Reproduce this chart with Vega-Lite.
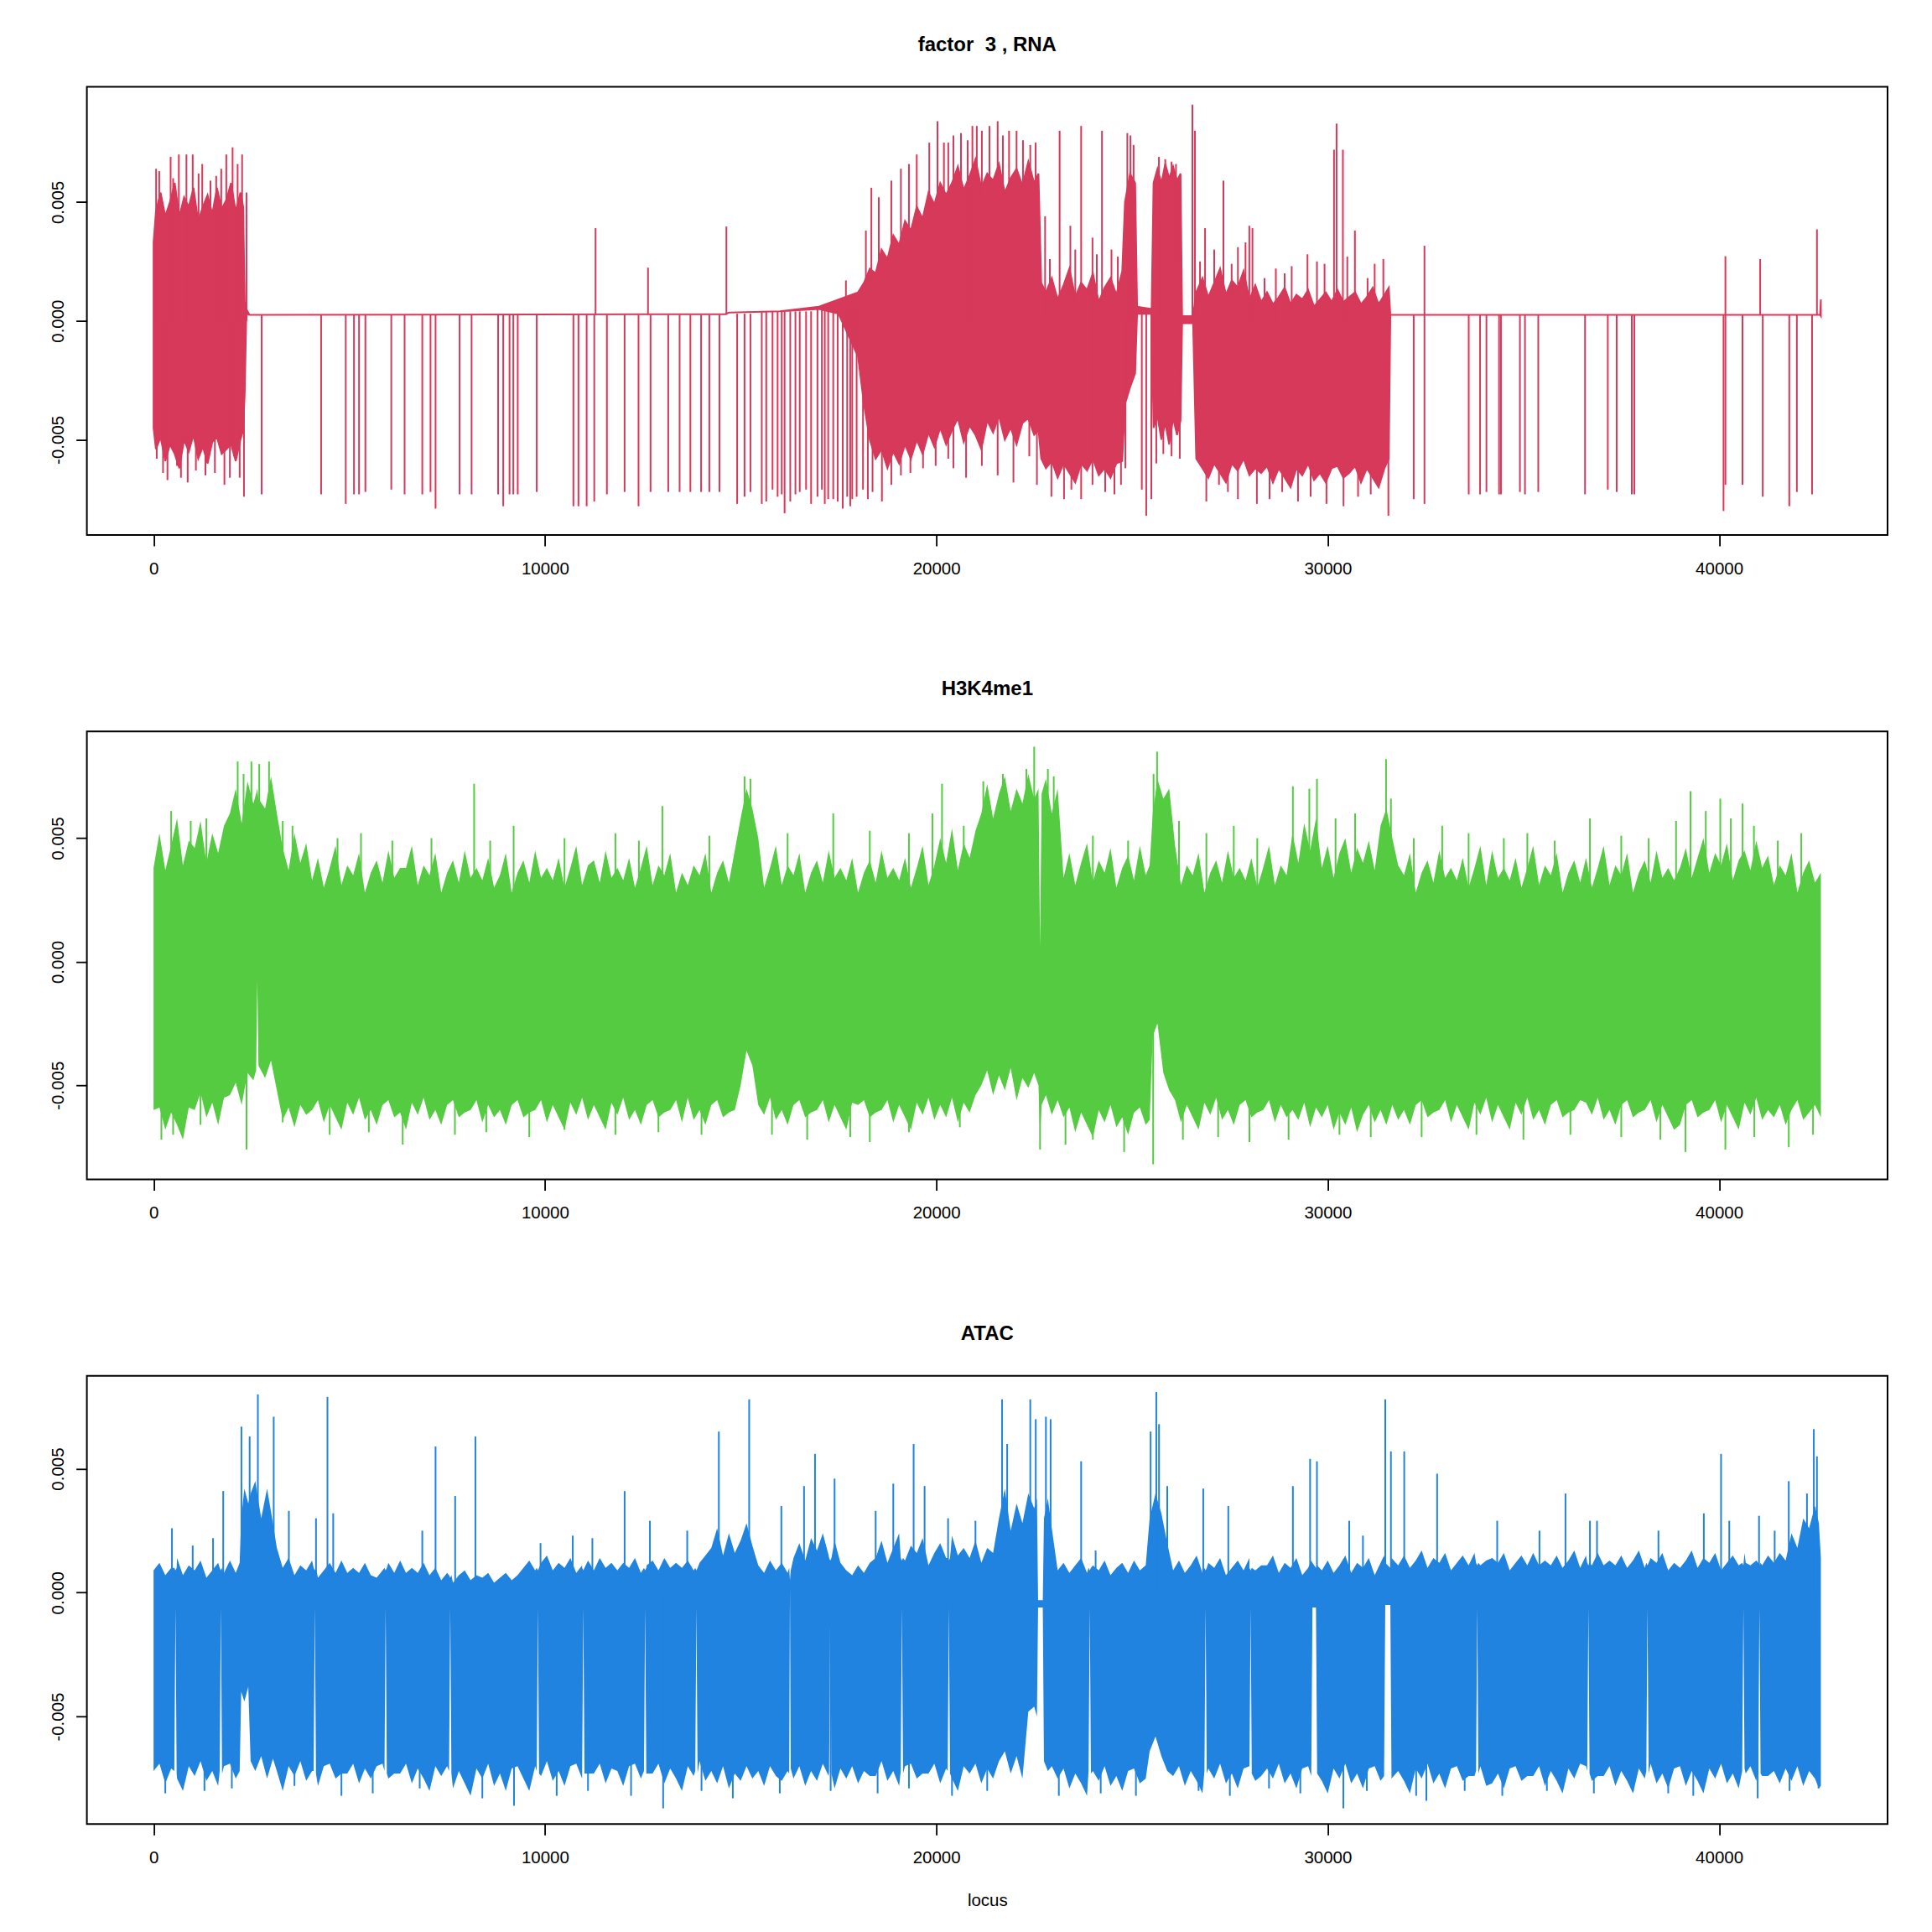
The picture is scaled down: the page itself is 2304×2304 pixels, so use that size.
{
  "$schema": "https://vega.github.io/schema/vega-lite/v6.json",
  "autosize": {"type": "none"},
  "padding": {"left": 103.6, "top": 103.6, "right": 2200.4, "bottom": 2200.4},
  "background": "white",
  "config": {
    "view": {"stroke": "black", "strokeWidth": 2},
    "font": "Liberation Sans",
    "axis": {"domain": false, "grid": false, "tickSize": 13, "tickWidth": 1.8, "tickColor": "black", "labelColor": "black", "labelFont": "Liberation Sans", "labelFontSize": 20.5, "labelFlush": false, "labelOverlap": false, "titleColor": "black", "titleFont": "Liberation Sans"},
    "title": {"font": "Liberation Sans", "fontSize": 24, "fontWeight": "bold", "color": "black", "anchor": "middle", "baseline": "alphabetic", "offset": 38}
  },
  "datasets": {
    "rnaBand": [
      {"x":0,"lo":-0.0045,"hi":0.0033},{"x":60,"lo":-0.0054,"hi":0.0046},{"x":180,"lo":-0.0049,"hi":0.0054},{"x":300,"lo":-0.0059,"hi":0.0044},{"x":420,"lo":-0.0052,"hi":0.0050},{"x":540,"lo":-0.0056,"hi":0.0058},{"x":660,"lo":-0.0062,"hi":0.0044},{"x":780,"lo":-0.0050,"hi":0.0052},{"x":900,"lo":-0.0055,"hi":0.0048},{"x":1020,"lo":-0.0048,"hi":0.0056},{"x":1140,"lo":-0.0058,"hi":0.0042},{"x":1260,"lo":-0.0053,"hi":0.0048},{"x":1380,"lo":-0.0060,"hi":0.0053},{"x":1500,"lo":-0.0051,"hi":0.0045},{"x":1620,"lo":-0.0049,"hi":0.0056},{"x":1740,"lo":-0.0056,"hi":0.0047},{"x":1860,"lo":-0.0054,"hi":0.0051},{"x":1980,"lo":-0.0052,"hi":0.0058},{"x":2100,"lo":-0.0059,"hi":0.0046},{"x":2220,"lo":-0.0050,"hi":0.0054},{"x":2290,"lo":-0.0046,"hi":0.0048},{"x":2330,"lo":-0.0030,"hi":0.0008},{"x":2370,"lo":0.0003,"hi":0.0005},{"x":2450,"lo":0.00025,"hi":0.00025},{"x":14600,"lo":0.00028,"hi":0.00028},{"x":14700,"lo":0.00035,"hi":0.00035},{"x":16000,"lo":0.0004,"hi":0.0004},{"x":17000,"lo":0.0005,"hi":0.0006},{"x":17500,"lo":0.0003,"hi":0.0009},
      {"x":18000,"lo":-0.0015,"hi":0.0012},{"x":18150,"lo":-0.0035,"hi":0.0016},{"x":18300,"lo":-0.0050,"hi":0.0022},{"x":18450,"lo":-0.0058,"hi":0.0020},{"x":18600,"lo":-0.0054,"hi":0.0030},{"x":18750,"lo":-0.0062,"hi":0.0026},{"x":18900,"lo":-0.0055,"hi":0.0036},{"x":19050,"lo":-0.0060,"hi":0.0032},{"x":19200,"lo":-0.0052,"hi":0.0042},{"x":19350,"lo":-0.0058,"hi":0.0038},{"x":19500,"lo":-0.0050,"hi":0.0048},{"x":19650,"lo":-0.0056,"hi":0.0043},{"x":19800,"lo":-0.0047,"hi":0.0054},{"x":19950,"lo":-0.0053,"hi":0.0049},{"x":20100,"lo":-0.0045,"hi":0.0058},{"x":20250,"lo":-0.0052,"hi":0.0053},
      {"x":20400,"lo":-0.0046,"hi":0.0058},{"x":20550,"lo":-0.0041,"hi":0.0065},{"x":20700,"lo":-0.0051,"hi":0.0055},{"x":20850,"lo":-0.0044,"hi":0.0061},{"x":21000,"lo":-0.0048,"hi":0.0068},{"x":21150,"lo":-0.0054,"hi":0.0056},{"x":21300,"lo":-0.0042,"hi":0.0062},{"x":21450,"lo":-0.0047,"hi":0.0059},{"x":21600,"lo":-0.0040,"hi":0.0066},{"x":21750,"lo":-0.0050,"hi":0.0054},{"x":21900,"lo":-0.0045,"hi":0.0060},{"x":22050,"lo":-0.0052,"hi":0.0064},{"x":22200,"lo":-0.0043,"hi":0.0057},{"x":22350,"lo":-0.0041,"hi":0.0067},{"x":22500,"lo":-0.0048,"hi":0.0058},{"x":22610,"lo":-0.0046,"hi":0.0062},
      {"x":22680,"lo":-0.0058,"hi":0.0016},{"x":22800,"lo":-0.0062,"hi":0.0012},{"x":22950,"lo":-0.0059,"hi":0.0018},{"x":23100,"lo":-0.0066,"hi":0.0009},{"x":23250,"lo":-0.0060,"hi":0.0015},{"x":23400,"lo":-0.0064,"hi":0.0022},{"x":23550,"lo":-0.0068,"hi":0.0010},{"x":23700,"lo":-0.0060,"hi":0.0016},{"x":23850,"lo":-0.0063,"hi":0.0013},{"x":24000,"lo":-0.0058,"hi":0.0020},{"x":24150,"lo":-0.0065,"hi":0.0008},{"x":24300,"lo":-0.0062,"hi":0.0014},{"x":24450,"lo":-0.0066,"hi":0.0018},{"x":24600,"lo":-0.0060,"hi":0.0011},{"x":24750,"lo":-0.0059,"hi":0.0021},
      {"x":24820,"lo":-0.0035,"hi":0.0050},{"x":24950,"lo":-0.0028,"hi":0.0062},{"x":25080,"lo":-0.0022,"hi":0.0058},{"x":25130,"lo":0.0003,"hi":0.0006},{"x":25500,"lo":0.0003,"hi":0.0005},{"x":25550,"lo":-0.0045,"hi":0.0058},{"x":25650,"lo":-0.0040,"hi":0.0064},{"x":25750,"lo":-0.0050,"hi":0.0058},{"x":25850,"lo":-0.0043,"hi":0.0066},{"x":25950,"lo":-0.0052,"hi":0.0060},{"x":26050,"lo":-0.0041,"hi":0.0065},{"x":26150,"lo":-0.0048,"hi":0.0059},{"x":26240,"lo":-0.0042,"hi":0.0062},{"x":26280,"lo":-0.0001,"hi":0.0002},{"x":26560,"lo":-0.0001,"hi":0.0002},
      {"x":26640,"lo":-0.0058,"hi":0.0012},{"x":26800,"lo":-0.0062,"hi":0.0018},{"x":26950,"lo":-0.0066,"hi":0.0010},{"x":27100,"lo":-0.0060,"hi":0.0016},{"x":27250,"lo":-0.0064,"hi":0.0022},{"x":27400,"lo":-0.0068,"hi":0.0011},{"x":27550,"lo":-0.0060,"hi":0.0017},{"x":27700,"lo":-0.0063,"hi":0.0014},{"x":27850,"lo":-0.0058,"hi":0.0021},{"x":28000,"lo":-0.0065,"hi":0.0009},{"x":28150,"lo":-0.0062,"hi":0.0015},
      {"x":28300,"lo":-0.0064,"hi":0.0008},{"x":28450,"lo":-0.0061,"hi":0.0012},{"x":28600,"lo":-0.0068,"hi":0.0007},{"x":28750,"lo":-0.0062,"hi":0.0010},{"x":28900,"lo":-0.0066,"hi":0.0014},{"x":29050,"lo":-0.0070,"hi":0.0007},{"x":29200,"lo":-0.0062,"hi":0.0011},{"x":29350,"lo":-0.0065,"hi":0.0009},{"x":29500,"lo":-0.0060,"hi":0.0013},{"x":29650,"lo":-0.0067,"hi":0.0006},{"x":29800,"lo":-0.0064,"hi":0.0009},{"x":29950,"lo":-0.0068,"hi":0.0012},{"x":30100,"lo":-0.0062,"hi":0.0008},{"x":30250,"lo":-0.0061,"hi":0.0013},{"x":30400,"lo":-0.0066,"hi":0.0008},{"x":30550,"lo":-0.0064,"hi":0.0010},{"x":30700,"lo":-0.0061,"hi":0.0012},{"x":30850,"lo":-0.0068,"hi":0.0007},{"x":31000,"lo":-0.0062,"hi":0.0010},{"x":31150,"lo":-0.0066,"hi":0.0014},{"x":31300,"lo":-0.0070,"hi":0.0007},{"x":31450,"lo":-0.0062,"hi":0.0011},{"x":31560,"lo":-0.0058,"hi":0.0014},
      {"x":31600,"lo":0.00025,"hi":0.00025},{"x":42580,"lo":0.00025,"hi":0.00025},{"x":42600,"lo":0.0002,"hi":0.0009}
    ],
    "rnaSpikes": [
      {"x":65,"y":0.0064,"b":0},{"x":145,"y":0.0063,"b":0},{"x":436,"y":0.0069,"b":0},{"x":500,"y":0.006,"b":0},{"x":646,"y":0.007,"b":0},{"x":840,"y":0.007,"b":0},{"x":1000,"y":0.007,"b":0},{"x":1150,"y":0.0062,"b":0},{"x":1244,"y":0.0066,"b":0},{"x":1454,"y":0.0059,"b":0},{"x":1600,"y":0.0061,"b":0},{"x":1729,"y":0.0064,"b":0},{"x":1858,"y":0.007,"b":0},{"x":2019,"y":0.0073,"b":0},{"x":2148,"y":0.0066,"b":0},{"x":2262,"y":0.007,"b":0},{"x":2374,"y":0.0054,"b":0},
      {"x":81,"y":-0.0058,"b":0},{"x":242,"y":-0.0064,"b":0},{"x":355,"y":-0.0067,"b":0},{"x":598,"y":-0.0061,"b":0},{"x":700,"y":-0.0066,"b":0},{"x":872,"y":-0.0068,"b":0},{"x":1082,"y":-0.0063,"b":0},{"x":1325,"y":-0.0065,"b":0},{"x":1567,"y":-0.0064,"b":0},{"x":1810,"y":-0.0069,"b":0},{"x":1950,"y":-0.0066,"b":0},{"x":2052,"y":-0.0057,"b":0},{"x":2200,"y":-0.0066,"b":0},{"x":2310,"y":-0.0074,"b":0},
      {"x":2762,"y":-0.0073,"b":0.00025},{"x":4281,"y":-0.0073,"b":0.00025},{"x":4911,"y":-0.0077,"b":0.00025},{"x":5121,"y":-0.0073,"b":0.00025},{"x":5250,"y":-0.0073,"b":0.00025},{"x":5412,"y":-0.0072,"b":0.00025},{"x":6074,"y":-0.0071,"b":0.00025},{"x":6414,"y":-0.0073,"b":0.00025},{"x":6866,"y":-0.0073,"b":0.00025},{"x":7076,"y":-0.0072,"b":0.00025},{"x":7205,"y":-0.0079,"b":0.00025},{"x":7819,"y":-0.0073,"b":0.00025},{"x":8126,"y":-0.0073,"b":0.00025},{"x":8804,"y":-0.0073,"b":0.00025},{"x":8934,"y":-0.0078,"b":0.00025},{"x":9095,"y":-0.0073,"b":0.00025},{"x":9192,"y":-0.0073,"b":0.00025},{"x":9305,"y":-0.0073,"b":0.00025},{"x":9790,"y":-0.0072,"b":0.00025},{"x":10727,"y":-0.0078,"b":0.00025},{"x":10856,"y":-0.0078,"b":0.00025},{"x":11066,"y":-0.0078,"b":0.00025},{"x":11260,"y":-0.0076,"b":0.00025},{"x":11583,"y":-0.0073,"b":0.00025},{"x":12035,"y":-0.0072,"b":0.00025},{"x":12391,"y":-0.0078,"b":0.00025},{"x":12698,"y":-0.0072,"b":0.00025},{"x":13150,"y":-0.0072,"b":0.00025},{"x":13441,"y":-0.0072,"b":0.00025},{"x":13716,"y":-0.0072,"b":0.00025},{"x":13990,"y":-0.0072,"b":0.00025},{"x":14200,"y":-0.0072,"b":0.00025},{"x":14458,"y":-0.0072,"b":0.00025},{"x":14911,"y":-0.0077,"b":0.0003},{"x":15100,"y":-0.0074,"b":0.0003},{"x":15250,"y":-0.0072,"b":0.0003},{"x":15540,"y":-0.0077,"b":0.0004},{"x":15654,"y":-0.0076,"b":0.0004},{"x":15815,"y":-0.0071,"b":0.0004},{"x":15945,"y":-0.0074,"b":0.0004},{"x":16050,"y":-0.0073,"b":0.0004},{"x":16123,"y":-0.0081,"b":0.0004},{"x":16268,"y":-0.0076,"b":0.0004},{"x":16400,"y":-0.0073,"b":0.0004},{"x":16510,"y":-0.0072,"b":0.0004},{"x":16672,"y":-0.0071,"b":0.0004},{"x":16800,"y":-0.0077,"b":0.0004},{"x":16963,"y":-0.0074,"b":0.0005},{"x":17076,"y":-0.0071,"b":0.0005},{"x":17150,"y":-0.0077,"b":0.0005},{"x":17237,"y":-0.0075,"b":0.0005},{"x":17366,"y":-0.0075,"b":0.0005},{"x":17479,"y":-0.0076,"b":0.0005},{"x":17609,"y":-0.0079,"b":0.0005},{"x":17722,"y":-0.0074,"b":0.0005},{"x":17800,"y":-0.0078,"b":0.0005},{"x":17851,"y":-0.0075,"b":0.0005},{"x":17964,"y":-0.0074,"b":0.0005},{"x":18126,"y":-0.0071,"b":0},{"x":18250,"y":-0.0075,"b":0},
      {"x":11293,"y":0.0039,"b":0.00025},{"x":12633,"y":0.00224,"b":0.00025},{"x":14636,"y":0.00397,"b":0.00025},{"x":17690,"y":0.0017,"b":0.0005},{"x":18200,"y":0.0038,"b":0},{"x":18340,"y":0.0056,"b":0},
      {"x":18530,"y":0.0052,"b":0},{"x":18850,"y":0.0059,"b":0},{"x":19095,"y":0.0064,"b":0},{"x":19300,"y":0.0066,"b":0},{"x":19500,"y":0.007,"b":0},{"x":19820,"y":0.0075,"b":0},{"x":20030,"y":0.0084,"b":0},{"x":20194,"y":0.0075,"b":0},{"x":20305,"y":0.0075,"b":0},{"x":20436,"y":0.0078,"b":0},{"x":20630,"y":0.0079,"b":0},{"x":20800,"y":0.0076,"b":0},{"x":20921,"y":0.0082,"b":0},{"x":21034,"y":0.0082,"b":0},{"x":21163,"y":0.008,"b":0},{"x":21357,"y":0.0082,"b":0},{"x":21567,"y":0.0084,"b":0},{"x":21700,"y":0.0078,"b":0},{"x":21858,"y":0.008,"b":0},{"x":22050,"y":0.008,"b":0},{"x":22214,"y":0.0076,"b":0},{"x":22400,"y":0.0074,"b":0},{"x":22537,"y":0.0075,"b":0},
      {"x":18370,"y":-0.0072,"b":0},{"x":18610,"y":-0.0076,"b":0},{"x":18850,"y":-0.0069,"b":0},{"x":19095,"y":-0.0065,"b":0},{"x":19337,"y":-0.0064,"b":0},{"x":19660,"y":-0.0062,"b":0},{"x":19983,"y":-0.0061,"b":0},{"x":20305,"y":-0.0058,"b":0},{"x":20436,"y":-0.0062,"b":0},{"x":20760,"y":-0.0066,"b":0},{"x":21163,"y":-0.0061,"b":0},{"x":21567,"y":-0.0065,"b":0},{"x":21970,"y":-0.0068,"b":0},{"x":22375,"y":-0.0057,"b":0},{"x":22570,"y":-0.0069,"b":0},
      {"x":22779,"y":0.0044,"b":0},{"x":22900,"y":0.0026,"b":0},{"x":23150,"y":0.008,"b":0},{"x":23425,"y":0.004,"b":0},{"x":23550,"y":0.003,"b":0},{"x":23700,"y":0.0082,"b":0},{"x":23990,"y":0.0035,"b":0},{"x":24100,"y":0.0028,"b":0},{"x":24233,"y":0.008,"b":0},{"x":24475,"y":0.003,"b":0},{"x":24637,"y":0.0027,"b":0},
      {"x":22940,"y":-0.0074,"b":0},{"x":23263,"y":-0.0075,"b":0},{"x":23450,"y":-0.0071,"b":0},{"x":23700,"y":-0.0075,"b":0},{"x":23990,"y":-0.0069,"b":0},{"x":24314,"y":-0.0072,"b":0},{"x":24550,"y":-0.0073,"b":0},{"x":24718,"y":-0.0069,"b":0},
      {"x":24880,"y":0.0079,"b":0},{"x":24960,"y":0.0078,"b":0},{"x":25040,"y":0.0074,"b":0},{"x":24830,"y":-0.0062,"b":0},
      {"x":25250,"y":-0.0071,"b":0.0004},{"x":25363,"y":-0.0082,"b":0.0004},{"x":25493,"y":-0.0075,"b":0.0004},
      {"x":25687,"y":0.0069,"b":0},{"x":25849,"y":0.0068,"b":0},{"x":26010,"y":0.0067,"b":0},{"x":26123,"y":0.0066,"b":0},{"x":25620,"y":-0.006,"b":0},{"x":25800,"y":-0.0056,"b":0},{"x":26010,"y":-0.0057,"b":0},{"x":26220,"y":-0.0058,"b":0},
      {"x":26543,"y":0.0091,"b":0},{"x":26608,"y":0.008,"b":0},
      {"x":26737,"y":0.0025,"b":0},{"x":26866,"y":0.0039,"b":0},{"x":27100,"y":0.003,"b":0},{"x":27335,"y":0.0059,"b":0},{"x":27545,"y":0.0024,"b":0},{"x":27706,"y":0.0031,"b":0},{"x":27900,"y":0.0033,"b":0},{"x":27997,"y":0.004,"b":0},{"x":28077,"y":0.0039,"b":0},
      {"x":26898,"y":-0.0076,"b":0},{"x":27222,"y":-0.0069,"b":0},{"x":27450,"y":-0.0072,"b":0},{"x":27706,"y":-0.0075,"b":0},{"x":28190,"y":-0.0077,"b":0},
      {"x":28385,"y":0.0018,"b":0},{"x":28675,"y":0.0022,"b":0},{"x":28900,"y":0.002,"b":0},{"x":29080,"y":0.0023,"b":0},{"x":29483,"y":0.0028,"b":0},{"x":29725,"y":0.0025,"b":0},{"x":29919,"y":0.0024,"b":0},{"x":30161,"y":0.0072,"b":0},{"x":30226,"y":0.0083,"b":0},{"x":30388,"y":0.0072,"b":0},{"x":30500,"y":0.0027,"b":0},{"x":30695,"y":0.0038,"b":0},{"x":31018,"y":0.0018,"b":0},{"x":31200,"y":0.0024,"b":0},{"x":31421,"y":0.0026,"b":0},
      {"x":28514,"y":-0.0075,"b":0},{"x":28837,"y":-0.0072,"b":0},{"x":29241,"y":-0.0076,"b":0},{"x":29564,"y":-0.0074,"b":0},{"x":29968,"y":-0.0077,"b":0},{"x":30404,"y":-0.0078,"b":0},{"x":30775,"y":-0.0074,"b":0},{"x":31099,"y":-0.0073,"b":0},{"x":31550,"y":-0.0082,"b":0},
      {"x":32197,"y":-0.0075,"b":0.00025},{"x":32472,"y":-0.0077,"b":0.00025},{"x":32472,"y":0.00316,"b":0.00025},{"x":33603,"y":-0.0073,"b":0.00025},{"x":33893,"y":-0.0073,"b":0.00025},{"x":34055,"y":-0.0072,"b":0.00025},{"x":34378,"y":-0.0073,"b":0.00025},{"x":34426,"y":-0.0073,"b":0.00025},{"x":34911,"y":-0.0072,"b":0.00025},{"x":35040,"y":-0.0073,"b":0.00025},{"x":35380,"y":-0.0072,"b":0.00025},{"x":36575,"y":-0.0073,"b":0.00025},{"x":37156,"y":-0.0071,"b":0.00025},{"x":37383,"y":-0.0072,"b":0.00025},{"x":37770,"y":-0.0073,"b":0.00025},{"x":37835,"y":-0.0073,"b":0.00025},{"x":40113,"y":-0.008,"b":0.00025},{"x":40161,"y":-0.0069,"b":0.00025},{"x":40161,"y":0.00272,"b":0.00025},{"x":40598,"y":-0.0069,"b":0.00025},{"x":41050,"y":0.0026,"b":0.00025},{"x":41115,"y":-0.0074,"b":0.00025},{"x":41793,"y":-0.0078,"b":0.00025},{"x":41987,"y":-0.0072,"b":0.00025},{"x":42375,"y":-0.0073,"b":0.00025},{"x":42500,"y":0.00385,"b":0.00025}
    ],
    "h3Band": [
      {"x":0,"lo":-0.0060,"hi":0.0038},{"x":150,"lo":-0.0059,"hi":0.0052},{"x":300,"lo":-0.0068,"hi":0.0037},{"x":450,"lo":-0.0061,"hi":0.0047},{"x":600,"lo":-0.0066,"hi":0.0058},{"x":750,"lo":-0.0072,"hi":0.0039},{"x":900,"lo":-0.0059,"hi":0.0049},
      {"x":1050,"lo":-0.0060,"hi":0.0046},{"x":1200,"lo":-0.0053,"hi":0.0057},{"x":1350,"lo":-0.0063,"hi":0.0040},{"x":1500,"lo":-0.0057,"hi":0.0052},{"x":1650,"lo":-0.0066,"hi":0.0044},{"x":1800,"lo":-0.0055,"hi":0.0055},
      {"x":1950,"lo":-0.0054,"hi":0.0060},{"x":2100,"lo":-0.0049,"hi":0.0070},{"x":2250,"lo":-0.0058,"hi":0.0056},{"x":2400,"lo":-0.0045,"hi":0.0073},{"x":2550,"lo":-0.0048,"hi":0.0064},{"x":2620,"lo":-0.0044,"hi":0.0068},{"x":2650,"lo":-0.0008,"hi":0.0070},{"x":2680,"lo":-0.0042,"hi":0.0066},{"x":2850,"lo":-0.0047,"hi":0.0062},{"x":3000,"lo":-0.0040,"hi":0.0075},{"x":3150,"lo":-0.0052,"hi":0.0060},
      {"x":3300,"lo":-0.0064,"hi":0.0046},{"x":3450,"lo":-0.0059,"hi":0.0037},{"x":3600,"lo":-0.0067,"hi":0.0052},{"x":3750,"lo":-0.0058,"hi":0.0040},{"x":3900,"lo":-0.0062,"hi":0.0048},
      {"x":4050,"lo":-0.0060,"hi":0.0033},{"x":4200,"lo":-0.0056,"hi":0.0042},{"x":4350,"lo":-0.0065,"hi":0.0030},{"x":4500,"lo":-0.0058,"hi":0.0038},{"x":4650,"lo":-0.0063,"hi":0.0047},{"x":4800,"lo":-0.0068,"hi":0.0031},{"x":4950,"lo":-0.0057,"hi":0.0039},{"x":5100,"lo":-0.0062,"hi":0.0035},{"x":5250,"lo":-0.0055,"hi":0.0044},{"x":5400,"lo":-0.0064,"hi":0.0028},{"x":5550,"lo":-0.0060,"hi":0.0036},{"x":5700,"lo":-0.0066,"hi":0.0041},{"x":5850,"lo":-0.0058,"hi":0.0032},{"x":6000,"lo":-0.0056,"hi":0.0045},{"x":6150,"lo":-0.0063,"hi":0.0034},{"x":6300,"lo":-0.0061,"hi":0.0038},
      {"x":6450,"lo":-0.0068,"hi":0.0038},{"x":6600,"lo":-0.0057,"hi":0.0047},{"x":6750,"lo":-0.0062,"hi":0.0031},{"x":6900,"lo":-0.0055,"hi":0.0039},{"x":7050,"lo":-0.0064,"hi":0.0035},{"x":7200,"lo":-0.0060,"hi":0.0044},{"x":7350,"lo":-0.0066,"hi":0.0028},{"x":7500,"lo":-0.0058,"hi":0.0036},{"x":7650,"lo":-0.0056,"hi":0.0041},{"x":7800,"lo":-0.0063,"hi":0.0032},{"x":7950,"lo":-0.0061,"hi":0.0045},{"x":8100,"lo":-0.0060,"hi":0.0034},{"x":8250,"lo":-0.0056,"hi":0.0038},{"x":8400,"lo":-0.0065,"hi":0.0033},{"x":8550,"lo":-0.0058,"hi":0.0042},{"x":8700,"lo":-0.0063,"hi":0.0030},
      {"x":8850,"lo":-0.0060,"hi":0.0035},{"x":9000,"lo":-0.0066,"hi":0.0044},{"x":9150,"lo":-0.0058,"hi":0.0028},{"x":9300,"lo":-0.0056,"hi":0.0036},{"x":9450,"lo":-0.0063,"hi":0.0041},{"x":9600,"lo":-0.0061,"hi":0.0032},{"x":9750,"lo":-0.0060,"hi":0.0045},{"x":9900,"lo":-0.0056,"hi":0.0034},{"x":10050,"lo":-0.0065,"hi":0.0038},{"x":10200,"lo":-0.0058,"hi":0.0033},{"x":10350,"lo":-0.0063,"hi":0.0042},{"x":10500,"lo":-0.0068,"hi":0.0030},{"x":10650,"lo":-0.0057,"hi":0.0038},{"x":10800,"lo":-0.0062,"hi":0.0047},{"x":10950,"lo":-0.0055,"hi":0.0031},{"x":11100,"lo":-0.0064,"hi":0.0039},
      {"x":11250,"lo":-0.0058,"hi":0.0041},{"x":11400,"lo":-0.0063,"hi":0.0032},{"x":11550,"lo":-0.0068,"hi":0.0045},{"x":11700,"lo":-0.0057,"hi":0.0034},{"x":11850,"lo":-0.0062,"hi":0.0038},{"x":12000,"lo":-0.0055,"hi":0.0033},{"x":12150,"lo":-0.0064,"hi":0.0042},{"x":12300,"lo":-0.0060,"hi":0.0030},{"x":12450,"lo":-0.0066,"hi":0.0038},{"x":12600,"lo":-0.0058,"hi":0.0047},{"x":12750,"lo":-0.0056,"hi":0.0031},{"x":12900,"lo":-0.0063,"hi":0.0039},{"x":13050,"lo":-0.0061,"hi":0.0035},{"x":13200,"lo":-0.0060,"hi":0.0044},{"x":13350,"lo":-0.0056,"hi":0.0028},{"x":13500,"lo":-0.0065,"hi":0.0036},
      {"x":13650,"lo":-0.0055,"hi":0.0031},{"x":13800,"lo":-0.0064,"hi":0.0039},{"x":13950,"lo":-0.0060,"hi":0.0035},{"x":14100,"lo":-0.0066,"hi":0.0044},{"x":14250,"lo":-0.0058,"hi":0.0028},{"x":14400,"lo":-0.0056,"hi":0.0036},{"x":14550,"lo":-0.0063,"hi":0.0041},{"x":14700,"lo":-0.0061,"hi":0.0032},{"x":14850,"lo":-0.0060,"hi":0.0045},
      {"x":15000,"lo":-0.0050,"hi":0.0058},{"x":15150,"lo":-0.0036,"hi":0.0070},{"x":15300,"lo":-0.0042,"hi":0.0062},{"x":15450,"lo":-0.0058,"hi":0.0050},
      {"x":15600,"lo":-0.0062,"hi":0.0030},{"x":15750,"lo":-0.0055,"hi":0.0038},{"x":15900,"lo":-0.0064,"hi":0.0047},{"x":16050,"lo":-0.0060,"hi":0.0031},{"x":16200,"lo":-0.0066,"hi":0.0039},{"x":16350,"lo":-0.0058,"hi":0.0035},{"x":16500,"lo":-0.0056,"hi":0.0044},{"x":16650,"lo":-0.0063,"hi":0.0028},{"x":16800,"lo":-0.0061,"hi":0.0036},{"x":16950,"lo":-0.0060,"hi":0.0041},{"x":17100,"lo":-0.0056,"hi":0.0032},{"x":17250,"lo":-0.0065,"hi":0.0045},{"x":17400,"lo":-0.0058,"hi":0.0034},{"x":17550,"lo":-0.0063,"hi":0.0038},{"x":17700,"lo":-0.0068,"hi":0.0033},{"x":17850,"lo":-0.0057,"hi":0.0042},
      {"x":18000,"lo":-0.0058,"hi":0.0028},{"x":18150,"lo":-0.0056,"hi":0.0036},{"x":18300,"lo":-0.0063,"hi":0.0041},{"x":18450,"lo":-0.0061,"hi":0.0032},{"x":18600,"lo":-0.0060,"hi":0.0045},{"x":18750,"lo":-0.0056,"hi":0.0034},{"x":18900,"lo":-0.0065,"hi":0.0038},{"x":19050,"lo":-0.0058,"hi":0.0033},{"x":19200,"lo":-0.0063,"hi":0.0042},{"x":19350,"lo":-0.0068,"hi":0.0030},{"x":19500,"lo":-0.0057,"hi":0.0038},{"x":19650,"lo":-0.0062,"hi":0.0047},{"x":19800,"lo":-0.0055,"hi":0.0031},{"x":19950,"lo":-0.0064,"hi":0.0039},
      {"x":20100,"lo":-0.0058,"hi":0.0050},{"x":20250,"lo":-0.0063,"hi":0.0040},{"x":20400,"lo":-0.0055,"hi":0.0054},{"x":20550,"lo":-0.0065,"hi":0.0037},{"x":20700,"lo":-0.0057,"hi":0.0048},{"x":20850,"lo":-0.0061,"hi":0.0042},{"x":21000,"lo":-0.0054,"hi":0.0053},
      {"x":21150,"lo":-0.0050,"hi":0.0060},{"x":21300,"lo":-0.0044,"hi":0.0072},{"x":21450,"lo":-0.0054,"hi":0.0058},{"x":21600,"lo":-0.0046,"hi":0.0068},{"x":21750,"lo":-0.0052,"hi":0.0075},{"x":21900,"lo":-0.0043,"hi":0.0061},{"x":22050,"lo":-0.0056,"hi":0.0070},{"x":22200,"lo":-0.0047,"hi":0.0064},{"x":22350,"lo":-0.0051,"hi":0.0076},{"x":22500,"lo":-0.0045,"hi":0.0066},{"x":22610,"lo":-0.0050,"hi":0.0070},{"x":22650,"lo":-0.0070,"hi":0.0006},{"x":22690,"lo":-0.0058,"hi":0.0068},
      {"x":22800,"lo":-0.0054,"hi":0.0074},{"x":22950,"lo":-0.0062,"hi":0.0060},{"x":23100,"lo":-0.0056,"hi":0.0070},
      {"x":23250,"lo":-0.0063,"hi":0.0034},{"x":23400,"lo":-0.0059,"hi":0.0044},{"x":23550,"lo":-0.0069,"hi":0.0031},{"x":23700,"lo":-0.0061,"hi":0.0040},{"x":23850,"lo":-0.0066,"hi":0.0048},{"x":24000,"lo":-0.0071,"hi":0.0032},{"x":24150,"lo":-0.0060,"hi":0.0041},{"x":24300,"lo":-0.0065,"hi":0.0036},{"x":24450,"lo":-0.0058,"hi":0.0046},{"x":24600,"lo":-0.0067,"hi":0.0030},{"x":24750,"lo":-0.0063,"hi":0.0038},{"x":24900,"lo":-0.0070,"hi":0.0043},{"x":25050,"lo":-0.0061,"hi":0.0033},{"x":25200,"lo":-0.0059,"hi":0.0047},{"x":25350,"lo":-0.0066,"hi":0.0035},{"x":25450,"lo":-0.0064,"hi":0.0039},
      {"x":25530,"lo":-0.0030,"hi":0.0060},{"x":25650,"lo":-0.0025,"hi":0.0074},{"x":25800,"lo":-0.0045,"hi":0.0066},{"x":25950,"lo":-0.0052,"hi":0.0070},
      {"x":26100,"lo":-0.0056,"hi":0.0047},{"x":26250,"lo":-0.0065,"hi":0.0031},{"x":26400,"lo":-0.0058,"hi":0.0039},{"x":26550,"lo":-0.0063,"hi":0.0035},{"x":26700,"lo":-0.0068,"hi":0.0044},{"x":26850,"lo":-0.0057,"hi":0.0028},{"x":27000,"lo":-0.0062,"hi":0.0036},{"x":27150,"lo":-0.0055,"hi":0.0041},{"x":27300,"lo":-0.0064,"hi":0.0032},{"x":27450,"lo":-0.0060,"hi":0.0045},{"x":27600,"lo":-0.0066,"hi":0.0034},{"x":27750,"lo":-0.0058,"hi":0.0038},{"x":27900,"lo":-0.0056,"hi":0.0033},{"x":28050,"lo":-0.0063,"hi":0.0042},{"x":28200,"lo":-0.0061,"hi":0.0030},{"x":28350,"lo":-0.0060,"hi":0.0038},{"x":28500,"lo":-0.0056,"hi":0.0047},{"x":28650,"lo":-0.0065,"hi":0.0031},{"x":28800,"lo":-0.0058,"hi":0.0039},{"x":28950,"lo":-0.0063,"hi":0.0035},
      {"x":29100,"lo":-0.0060,"hi":0.0052},{"x":29250,"lo":-0.0064,"hi":0.0040},{"x":29400,"lo":-0.0057,"hi":0.0056},{"x":29550,"lo":-0.0067,"hi":0.0045},{"x":29700,"lo":-0.0059,"hi":0.0058},
      {"x":29850,"lo":-0.0063,"hi":0.0038},{"x":30000,"lo":-0.0058,"hi":0.0047},{"x":30150,"lo":-0.0068,"hi":0.0034},{"x":30300,"lo":-0.0061,"hi":0.0044},{"x":30450,"lo":-0.0066,"hi":0.0050},{"x":30600,"lo":-0.0059,"hi":0.0036},{"x":30750,"lo":-0.0069,"hi":0.0046},{"x":30900,"lo":-0.0062,"hi":0.0040},{"x":31050,"lo":-0.0058,"hi":0.0049},{"x":31200,"lo":-0.0065,"hi":0.0037},
      {"x":31350,"lo":-0.0060,"hi":0.0055},{"x":31500,"lo":-0.0066,"hi":0.0062},{"x":31650,"lo":-0.0058,"hi":0.0050},
      {"x":31800,"lo":-0.0064,"hi":0.0039},{"x":31950,"lo":-0.0060,"hi":0.0035},{"x":32100,"lo":-0.0066,"hi":0.0044},{"x":32250,"lo":-0.0058,"hi":0.0028},{"x":32400,"lo":-0.0056,"hi":0.0036},{"x":32550,"lo":-0.0063,"hi":0.0041},{"x":32700,"lo":-0.0061,"hi":0.0032},{"x":32850,"lo":-0.0060,"hi":0.0045},{"x":33000,"lo":-0.0056,"hi":0.0034},{"x":33150,"lo":-0.0065,"hi":0.0038},{"x":33300,"lo":-0.0058,"hi":0.0033},{"x":33450,"lo":-0.0063,"hi":0.0042},{"x":33600,"lo":-0.0068,"hi":0.0030},{"x":33750,"lo":-0.0057,"hi":0.0038},{"x":33900,"lo":-0.0062,"hi":0.0047},{"x":34050,"lo":-0.0055,"hi":0.0031},
      {"x":34200,"lo":-0.0065,"hi":0.0045},{"x":34350,"lo":-0.0058,"hi":0.0034},{"x":34500,"lo":-0.0063,"hi":0.0038},{"x":34650,"lo":-0.0068,"hi":0.0033},{"x":34800,"lo":-0.0057,"hi":0.0042},{"x":34950,"lo":-0.0062,"hi":0.0030},{"x":35100,"lo":-0.0055,"hi":0.0038},{"x":35250,"lo":-0.0064,"hi":0.0047},{"x":35400,"lo":-0.0060,"hi":0.0031},{"x":35550,"lo":-0.0066,"hi":0.0039},{"x":35700,"lo":-0.0058,"hi":0.0035},{"x":35850,"lo":-0.0056,"hi":0.0044},{"x":36000,"lo":-0.0063,"hi":0.0028},{"x":36150,"lo":-0.0061,"hi":0.0036},{"x":36300,"lo":-0.0060,"hi":0.0041},{"x":36450,"lo":-0.0056,"hi":0.0032},
      {"x":36600,"lo":-0.0057,"hi":0.0042},{"x":36750,"lo":-0.0062,"hi":0.0030},{"x":36900,"lo":-0.0055,"hi":0.0038},{"x":37050,"lo":-0.0064,"hi":0.0047},{"x":37200,"lo":-0.0060,"hi":0.0031},{"x":37350,"lo":-0.0066,"hi":0.0039},{"x":37500,"lo":-0.0058,"hi":0.0035},{"x":37650,"lo":-0.0056,"hi":0.0044},{"x":37800,"lo":-0.0063,"hi":0.0028},{"x":37950,"lo":-0.0061,"hi":0.0036},{"x":38100,"lo":-0.0060,"hi":0.0041},{"x":38250,"lo":-0.0056,"hi":0.0032},{"x":38400,"lo":-0.0065,"hi":0.0045},{"x":38550,"lo":-0.0058,"hi":0.0034},{"x":38700,"lo":-0.0063,"hi":0.0038},{"x":38850,"lo":-0.0068,"hi":0.0033},
      {"x":39000,"lo":-0.0066,"hi":0.0038},{"x":39150,"lo":-0.0058,"hi":0.0046},{"x":39300,"lo":-0.0056,"hi":0.0034},{"x":39450,"lo":-0.0063,"hi":0.0042},{"x":39600,"lo":-0.0061,"hi":0.0050},{"x":39750,"lo":-0.0060,"hi":0.0036},{"x":39900,"lo":-0.0056,"hi":0.0044},{"x":40050,"lo":-0.0065,"hi":0.0039},{"x":40200,"lo":-0.0058,"hi":0.0048},{"x":40350,"lo":-0.0063,"hi":0.0033},{"x":40500,"lo":-0.0068,"hi":0.0041},{"x":40650,"lo":-0.0057,"hi":0.0045},{"x":40800,"lo":-0.0062,"hi":0.0037},{"x":40950,"lo":-0.0055,"hi":0.0049},{"x":41100,"lo":-0.0064,"hi":0.0038},{"x":41250,"lo":-0.0060,"hi":0.0043},
      {"x":41400,"lo":-0.0063,"hi":0.0031},{"x":41550,"lo":-0.0058,"hi":0.0039},{"x":41700,"lo":-0.0066,"hi":0.0035},{"x":41850,"lo":-0.0060,"hi":0.0044},{"x":42000,"lo":-0.0056,"hi":0.0028},{"x":42150,"lo":-0.0064,"hi":0.0036},{"x":42300,"lo":-0.0061,"hi":0.0041},{"x":42450,"lo":-0.0058,"hi":0.0032},{"x":42600,"lo":-0.0063,"hi":0.0036}
    ],
    "h3Spikes": [
      {"x":450,"y":0.0061,"b":0},{"x":950,"y":0.0057,"b":0},{"x":1350,"y":0.0058,"b":0},{"x":2150,"y":0.0081,"b":0},{"x":2300,"y":0.0076,"b":0},{"x":2500,"y":0.0081,"b":0},{"x":2700,"y":0.008,"b":0},{"x":2950,"y":0.0081,"b":0},{"x":3300,"y":0.0057,"b":0},{"x":3550,"y":0.0055,"b":0},{"x":4700,"y":0.005,"b":0},{"x":5300,"y":0.0052,"b":0},{"x":6100,"y":0.0049,"b":0},{"x":7100,"y":0.005,"b":0},{"x":8190,"y":0.0072,"b":0},{"x":8600,"y":0.0049,"b":0},{"x":9200,"y":0.0055,"b":0},{"x":10500,"y":0.005,"b":0},{"x":11800,"y":0.0052,"b":0},{"x":12400,"y":0.0049,"b":0},{"x":13000,"y":0.0063,"b":0},{"x":14200,"y":0.0051,"b":0},{"x":15100,"y":0.0075,"b":0},{"x":15250,"y":0.0074,"b":0},{"x":16200,"y":0.0052,"b":0},{"x":17366,"y":0.006,"b":0},{"x":18300,"y":0.0053,"b":0},{"x":19300,"y":0.0052,"b":0},{"x":19900,"y":0.006,"b":0},{"x":20145,"y":0.0072,"b":0},{"x":20700,"y":0.0055,"b":0},{"x":21200,"y":0.0073,"b":0},{"x":21700,"y":0.0076,"b":0},{"x":22300,"y":0.0078,"b":0},{"x":22500,"y":0.0087,"b":0},{"x":22850,"y":0.0078,"b":0},{"x":23000,"y":0.0075,"b":0},{"x":24000,"y":0.0051,"b":0},{"x":24900,"y":0.0049,"b":0},{"x":25550,"y":0.0076,"b":0},{"x":25640,"y":0.0085,"b":0},{"x":26200,"y":0.0057,"b":0},{"x":26900,"y":0.0052,"b":0},{"x":27600,"y":0.0055,"b":0},{"x":28200,"y":0.005,"b":0},{"x":29110,"y":0.0071,"b":0},{"x":29530,"y":0.007,"b":0},{"x":29725,"y":0.0074,"b":0},{"x":30200,"y":0.0058,"b":0},{"x":30700,"y":0.006,"b":0},{"x":31490,"y":0.0082,"b":0},{"x":31615,"y":0.0066,"b":0},{"x":32200,"y":0.005,"b":0},{"x":32925,"y":0.0055,"b":0},{"x":33600,"y":0.0052,"b":0},{"x":34500,"y":0.005,"b":0},{"x":35100,"y":0.0052,"b":0},{"x":35800,"y":0.0049,"b":0},{"x":36700,"y":0.0058,"b":0},{"x":37500,"y":0.0051,"b":0},{"x":38200,"y":0.005,"b":0},{"x":38900,"y":0.0057,"b":0},{"x":39270,"y":0.0069,"b":0},{"x":39660,"y":0.0061,"b":0},{"x":40030,"y":0.0066,"b":0},{"x":40300,"y":0.0058,"b":0},{"x":40600,"y":0.0064,"b":0},{"x":40890,"y":0.0055,"b":0},{"x":41500,"y":0.0049,"b":0},{"x":42100,"y":0.0052,"b":0},
      {"x":200,"y":-0.0072,"b":0},{"x":500,"y":-0.007,"b":0},{"x":1200,"y":-0.0066,"b":0},{"x":2375,"y":-0.0076,"b":0},{"x":3300,"y":-0.0065,"b":0},{"x":4500,"y":-0.007,"b":0},{"x":5500,"y":-0.0069,"b":0},{"x":6365,"y":-0.0074,"b":0},{"x":7700,"y":-0.007,"b":0},{"x":8500,"y":-0.0069,"b":0},{"x":9600,"y":-0.0071,"b":0},{"x":10500,"y":-0.0068,"b":0},{"x":11800,"y":-0.007,"b":0},{"x":12900,"y":-0.0069,"b":0},{"x":14000,"y":-0.007,"b":0},{"x":15800,"y":-0.007,"b":0},{"x":16700,"y":-0.0072,"b":0},{"x":17800,"y":-0.0071,"b":0},{"x":18300,"y":-0.0073,"b":0},{"x":19300,"y":-0.0069,"b":0},{"x":20600,"y":-0.0067,"b":0},{"x":22650,"y":-0.0076,"b":0},{"x":23300,"y":-0.0074,"b":0},{"x":24000,"y":-0.0072,"b":0},{"x":24798,"y":-0.0077,"b":0},{"x":25540,"y":-0.0082,"b":0},{"x":26300,"y":-0.0072,"b":0},{"x":27200,"y":-0.0071,"b":0},{"x":28000,"y":-0.0073,"b":0},{"x":29000,"y":-0.0072,"b":0},{"x":30300,"y":-0.007,"b":0},{"x":31100,"y":-0.0071,"b":0},{"x":32400,"y":-0.0071,"b":0},{"x":33800,"y":-0.007,"b":0},{"x":35000,"y":-0.0072,"b":0},{"x":36200,"y":-0.007,"b":0},{"x":37500,"y":-0.0071,"b":0},{"x":38500,"y":-0.0072,"b":0},{"x":39140,"y":-0.0077,"b":0},{"x":40160,"y":-0.0076,"b":0},{"x":40900,"y":-0.0071,"b":0},{"x":41780,"y":-0.0075,"b":0},{"x":42400,"y":-0.007,"b":0}
    ],
    "atacBand": [
      {"x":0,"lo":-0.0072,"hi":0.0009},{"x":150,"lo":-0.0069,"hi":0.0012},{"x":300,"lo":-0.0077,"hi":0.0007},{"x":450,"lo":-0.0071,"hi":0.0010},{"x":600,"lo":-0.0075,"hi":0.0014},{"x":750,"lo":-0.0080,"hi":0.0007},{"x":900,"lo":-0.0070,"hi":0.0011},{"x":1050,"lo":-0.0074,"hi":0.0009},{"x":1200,"lo":-0.0068,"hi":0.0013},{"x":1350,"lo":-0.0076,"hi":0.0006},{"x":1500,"lo":-0.0072,"hi":0.0009},{"x":1650,"lo":-0.0078,"hi":0.0012},{"x":1800,"lo":-0.0070,"hi":0.0008},{"x":1950,"lo":-0.0069,"hi":0.0013},{"x":2100,"lo":-0.0075,"hi":0.0008},{"x":2200,"lo":-0.0072,"hi":0.0012},
      {"x":2240,"lo":-0.0040,"hi":0.0030},{"x":2320,"lo":-0.0044,"hi":0.0042},{"x":2420,"lo":-0.0038,"hi":0.0036},{"x":2480,"lo":-0.0068,"hi":0.0040},{"x":2600,"lo":-0.0072,"hi":0.0045},{"x":2750,"lo":-0.0066,"hi":0.0030},{"x":2900,"lo":-0.0075,"hi":0.0042},{"x":3050,"lo":-0.0067,"hi":0.0028},{"x":3150,"lo":-0.0072,"hi":0.0018},
      {"x":3300,"lo":-0.0080,"hi":0.0010},{"x":3450,"lo":-0.0070,"hi":0.0014},{"x":3600,"lo":-0.0074,"hi":0.0007},{"x":3750,"lo":-0.0068,"hi":0.0011},{"x":3900,"lo":-0.0076,"hi":0.0009},{"x":4050,"lo":-0.0072,"hi":0.0013},{"x":4200,"lo":-0.0078,"hi":0.0006},{"x":4350,"lo":-0.0070,"hi":0.0009},{"x":4500,"lo":-0.0069,"hi":0.0012},{"x":4650,"lo":-0.0075,"hi":0.0008},{"x":4800,"lo":-0.0073,"hi":0.0013},{"x":4950,"lo":-0.0073,"hi":0.0008},{"x":5100,"lo":-0.0069,"hi":0.0010},{"x":5250,"lo":-0.0077,"hi":0.0008},{"x":5400,"lo":-0.0071,"hi":0.0012},{"x":5550,"lo":-0.0075,"hi":0.0007},
      {"x":5700,"lo":-0.0070,"hi":0.0006},{"x":5850,"lo":-0.0069,"hi":0.0009},{"x":6000,"lo":-0.0075,"hi":0.0012},{"x":6150,"lo":-0.0073,"hi":0.0008},{"x":6300,"lo":-0.0073,"hi":0.0013},{"x":6450,"lo":-0.0069,"hi":0.0008},{"x":6600,"lo":-0.0077,"hi":0.0010},{"x":6750,"lo":-0.0071,"hi":0.0008},{"x":6900,"lo":-0.0075,"hi":0.0012},{"x":7050,"lo":-0.0080,"hi":0.0007},{"x":7200,"lo":-0.0070,"hi":0.0010},
      {"x":7350,"lo":-0.0074,"hi":0.0005},{"x":7500,"lo":-0.0070,"hi":0.0008},{"x":7650,"lo":-0.0079,"hi":0.0004},{"x":7800,"lo":-0.0072,"hi":0.0007},{"x":7950,"lo":-0.0077,"hi":0.0009},{"x":8100,"lo":-0.0082,"hi":0.0005},{"x":8250,"lo":-0.0071,"hi":0.0007},{"x":8400,"lo":-0.0075,"hi":0.0006},{"x":8550,"lo":-0.0069,"hi":0.0008},{"x":8700,"lo":-0.0078,"hi":0.0004},{"x":8850,"lo":-0.0073,"hi":0.0006},{"x":9000,"lo":-0.0080,"hi":0.0008},{"x":9150,"lo":-0.0071,"hi":0.0005},{"x":9300,"lo":-0.0070,"hi":0.0007},
      {"x":9450,"lo":-0.0075,"hi":0.0010},{"x":9600,"lo":-0.0080,"hi":0.0013},{"x":9750,"lo":-0.0070,"hi":0.0009},{"x":9900,"lo":-0.0074,"hi":0.0012},{"x":10050,"lo":-0.0068,"hi":0.0015},{"x":10200,"lo":-0.0076,"hi":0.0009},{"x":10350,"lo":-0.0072,"hi":0.0012},{"x":10500,"lo":-0.0078,"hi":0.0010},{"x":10650,"lo":-0.0070,"hi":0.0014},{"x":10800,"lo":-0.0069,"hi":0.0008},{"x":10950,"lo":-0.0075,"hi":0.0011},{"x":11100,"lo":-0.0073,"hi":0.0013},{"x":11250,"lo":-0.0073,"hi":0.0009},{"x":11400,"lo":-0.0069,"hi":0.0014},{"x":11550,"lo":-0.0077,"hi":0.0010},{"x":11700,"lo":-0.0071,"hi":0.0012},
      {"x":11850,"lo":-0.0072,"hi":0.0009},{"x":12000,"lo":-0.0078,"hi":0.0012},{"x":12150,"lo":-0.0070,"hi":0.0010},{"x":12300,"lo":-0.0069,"hi":0.0014},{"x":12450,"lo":-0.0075,"hi":0.0008},{"x":12600,"lo":-0.0073,"hi":0.0011},{"x":12750,"lo":-0.0073,"hi":0.0013},{"x":12900,"lo":-0.0069,"hi":0.0009},{"x":13050,"lo":-0.0077,"hi":0.0014},{"x":13200,"lo":-0.0071,"hi":0.0010},{"x":13350,"lo":-0.0075,"hi":0.0012},{"x":13500,"lo":-0.0080,"hi":0.0010},{"x":13650,"lo":-0.0070,"hi":0.0013},{"x":13800,"lo":-0.0074,"hi":0.0009},{"x":13950,"lo":-0.0068,"hi":0.0012},{"x":14100,"lo":-0.0076,"hi":0.0015},
      {"x":14250,"lo":-0.0072,"hi":0.0018},{"x":14400,"lo":-0.0077,"hi":0.0026},{"x":14550,"lo":-0.0070,"hi":0.0015},{"x":14700,"lo":-0.0079,"hi":0.0024},{"x":14850,"lo":-0.0073,"hi":0.0016},{"x":15000,"lo":-0.0076,"hi":0.0021},{"x":15150,"lo":-0.0070,"hi":0.0028},{"x":15300,"lo":-0.0075,"hi":0.0019},
      {"x":15450,"lo":-0.0072,"hi":0.0011},{"x":15600,"lo":-0.0078,"hi":0.0008},{"x":15750,"lo":-0.0070,"hi":0.0013},{"x":15900,"lo":-0.0074,"hi":0.0009},{"x":16050,"lo":-0.0076,"hi":0.0012},{"x":16200,"lo":-0.0072,"hi":0.0008},{"x":16240,"lo":-0.0073,"hi":0.0010},{"x":16260,"lo":0.0002,"hi":0.0005},{"x":16280,"lo":-0.0071,"hi":0.0009},
      {"x":16350,"lo":-0.0075,"hi":0.0014},{"x":16500,"lo":-0.0070,"hi":0.0020},{"x":16650,"lo":-0.0078,"hi":0.0013},{"x":16800,"lo":-0.0072,"hi":0.0022},{"x":16950,"lo":-0.0076,"hi":0.0017},{"x":17100,"lo":-0.0069,"hi":0.0024},{"x":17250,"lo":-0.0074,"hi":0.0015},{"x":17400,"lo":-0.0079,"hi":0.0021},{"x":17550,"lo":-0.0071,"hi":0.0012},
      {"x":17700,"lo":-0.0075,"hi":0.0009},{"x":17850,"lo":-0.0070,"hi":0.0007},{"x":18000,"lo":-0.0077,"hi":0.0011},{"x":18150,"lo":-0.0072,"hi":0.0008},{"x":18300,"lo":-0.0074,"hi":0.0012},
      {"x":18450,"lo":-0.0074,"hi":0.0014},{"x":18600,"lo":-0.0068,"hi":0.0021},{"x":18750,"lo":-0.0076,"hi":0.0012},{"x":18900,"lo":-0.0072,"hi":0.0018},{"x":19050,"lo":-0.0078,"hi":0.0024},{"x":19200,"lo":-0.0070,"hi":0.0013},{"x":19350,"lo":-0.0069,"hi":0.0019},{"x":19500,"lo":-0.0075,"hi":0.0016},{"x":19650,"lo":-0.0073,"hi":0.0022},{"x":19800,"lo":-0.0073,"hi":0.0011},{"x":19950,"lo":-0.0069,"hi":0.0016},{"x":20100,"lo":-0.0077,"hi":0.0020},{"x":20250,"lo":-0.0071,"hi":0.0014},{"x":20400,"lo":-0.0075,"hi":0.0023},{"x":20550,"lo":-0.0080,"hi":0.0015},{"x":20700,"lo":-0.0070,"hi":0.0018},{"x":20850,"lo":-0.0073,"hi":0.0014},{"x":21000,"lo":-0.0069,"hi":0.0021},{"x":21150,"lo":-0.0077,"hi":0.0012},{"x":21300,"lo":-0.0071,"hi":0.0018},{"x":21450,"lo":-0.0075,"hi":0.0016},
      {"x":21600,"lo":-0.0068,"hi":0.0030},{"x":21750,"lo":-0.0064,"hi":0.0042},{"x":21900,"lo":-0.0073,"hi":0.0025},{"x":22050,"lo":-0.0066,"hi":0.0036},{"x":22200,"lo":-0.0075,"hi":0.0028},{"x":22350,"lo":-0.0048,"hi":0.0040},{"x":22500,"lo":-0.0046,"hi":0.0034},{"x":22570,"lo":-0.0050,"hi":0.0038},{"x":22600,"lo":-0.0006,"hi":-0.0003},{"x":22720,"lo":-0.0006,"hi":-0.0003},{"x":22750,"lo":-0.0068,"hi":0.0030},{"x":22850,"lo":-0.0072,"hi":0.0038},{"x":22950,"lo":-0.0070,"hi":0.0026},
      {"x":23100,"lo":-0.0075,"hi":0.0009},{"x":23250,"lo":-0.0071,"hi":0.0012},{"x":23400,"lo":-0.0079,"hi":0.0008},{"x":23550,"lo":-0.0073,"hi":0.0011},{"x":23700,"lo":-0.0077,"hi":0.0014},{"x":23850,"lo":-0.0082,"hi":0.0008},{"x":24000,"lo":-0.0072,"hi":0.0011},{"x":24150,"lo":-0.0076,"hi":0.0009},{"x":24300,"lo":-0.0070,"hi":0.0013},{"x":24450,"lo":-0.0078,"hi":0.0007},{"x":24600,"lo":-0.0074,"hi":0.0010},{"x":24750,"lo":-0.0080,"hi":0.0012},{"x":24900,"lo":-0.0072,"hi":0.0008},{"x":25050,"lo":-0.0071,"hi":0.0013},{"x":25200,"lo":-0.0077,"hi":0.0009},{"x":25350,"lo":-0.0075,"hi":0.0011},
      {"x":25450,"lo":-0.0064,"hi":0.0030},{"x":25600,"lo":-0.0058,"hi":0.0040},{"x":25750,"lo":-0.0066,"hi":0.0032},{"x":25900,"lo":-0.0072,"hi":0.0020},
      {"x":26050,"lo":-0.0074,"hi":0.0009},{"x":26200,"lo":-0.0070,"hi":0.0013},{"x":26350,"lo":-0.0078,"hi":0.0008},{"x":26500,"lo":-0.0072,"hi":0.0011},{"x":26650,"lo":-0.0076,"hi":0.0015},{"x":26800,"lo":-0.0081,"hi":0.0008},{"x":26950,"lo":-0.0071,"hi":0.0012},{"x":27100,"lo":-0.0075,"hi":0.0010},{"x":27250,"lo":-0.0069,"hi":0.0014},{"x":27400,"lo":-0.0077,"hi":0.0007},{"x":27550,"lo":-0.0073,"hi":0.0010},{"x":27700,"lo":-0.0079,"hi":0.0013},{"x":27850,"lo":-0.0071,"hi":0.0009},{"x":28000,"lo":-0.0070,"hi":0.0014},{"x":28150,"lo":-0.0076,"hi":0.0009},{"x":28300,"lo":-0.0074,"hi":0.0011},
      {"x":28450,"lo":-0.0071,"hi":0.0011},{"x":28600,"lo":-0.0075,"hi":0.0015},{"x":28750,"lo":-0.0069,"hi":0.0008},{"x":28900,"lo":-0.0077,"hi":0.0012},{"x":29050,"lo":-0.0073,"hi":0.0010},{"x":29200,"lo":-0.0079,"hi":0.0014},{"x":29350,"lo":-0.0071,"hi":0.0007},{"x":29500,"lo":-0.0070,"hi":0.0010},{"x":29580,"lo":-0.0074,"hi":0.0013},{"x":29610,"lo":-0.0006,"hi":0.0012},{"x":29700,"lo":-0.0006,"hi":0.0010},{"x":29730,"lo":-0.0073,"hi":0.0011},
      {"x":29850,"lo":-0.0076,"hi":0.0009},{"x":30000,"lo":-0.0081,"hi":0.0013},{"x":30150,"lo":-0.0071,"hi":0.0008},{"x":30300,"lo":-0.0075,"hi":0.0011},{"x":30450,"lo":-0.0069,"hi":0.0015},{"x":30600,"lo":-0.0077,"hi":0.0008},{"x":30750,"lo":-0.0073,"hi":0.0012},{"x":30900,"lo":-0.0079,"hi":0.0010},{"x":31050,"lo":-0.0071,"hi":0.0014},{"x":31200,"lo":-0.0070,"hi":0.0007},{"x":31350,"lo":-0.0076,"hi":0.0012},{"x":31440,"lo":-0.0074,"hi":0.0015},{"x":31470,"lo":-0.0005,"hi":0.0012},{"x":31600,"lo":-0.0005,"hi":0.0010},{"x":31630,"lo":-0.0075,"hi":0.0014},
      {"x":31800,"lo":-0.0072,"hi":0.0011},{"x":31950,"lo":-0.0076,"hi":0.0015},{"x":32100,"lo":-0.0081,"hi":0.0010},{"x":32250,"lo":-0.0071,"hi":0.0013},{"x":32400,"lo":-0.0075,"hi":0.0017},{"x":32550,"lo":-0.0069,"hi":0.0010},{"x":32700,"lo":-0.0077,"hi":0.0014},{"x":32850,"lo":-0.0073,"hi":0.0012},{"x":33000,"lo":-0.0079,"hi":0.0016},{"x":33150,"lo":-0.0071,"hi":0.0009},{"x":33300,"lo":-0.0070,"hi":0.0012},{"x":33450,"lo":-0.0076,"hi":0.0015},{"x":33600,"lo":-0.0074,"hi":0.0011},{"x":33750,"lo":-0.0074,"hi":0.0016},{"x":33900,"lo":-0.0070,"hi":0.0011},{"x":34050,"lo":-0.0078,"hi":0.0013},
      {"x":34200,"lo":-0.0077,"hi":0.0014},{"x":34350,"lo":-0.0073,"hi":0.0012},{"x":34500,"lo":-0.0079,"hi":0.0016},{"x":34650,"lo":-0.0071,"hi":0.0009},{"x":34800,"lo":-0.0070,"hi":0.0012},{"x":34950,"lo":-0.0076,"hi":0.0015},{"x":35100,"lo":-0.0074,"hi":0.0011},{"x":35250,"lo":-0.0074,"hi":0.0016},{"x":35400,"lo":-0.0070,"hi":0.0011},{"x":35550,"lo":-0.0078,"hi":0.0013},{"x":35700,"lo":-0.0072,"hi":0.0011},{"x":35850,"lo":-0.0076,"hi":0.0015},{"x":36000,"lo":-0.0081,"hi":0.0010},{"x":36150,"lo":-0.0071,"hi":0.0013},{"x":36300,"lo":-0.0075,"hi":0.0017},{"x":36450,"lo":-0.0069,"hi":0.0010},
      {"x":36600,"lo":-0.0070,"hi":0.0015},{"x":36750,"lo":-0.0076,"hi":0.0011},{"x":36900,"lo":-0.0074,"hi":0.0016},{"x":37050,"lo":-0.0074,"hi":0.0011},{"x":37200,"lo":-0.0070,"hi":0.0013},{"x":37350,"lo":-0.0078,"hi":0.0011},{"x":37500,"lo":-0.0072,"hi":0.0015},{"x":37650,"lo":-0.0076,"hi":0.0010},{"x":37800,"lo":-0.0081,"hi":0.0013},{"x":37950,"lo":-0.0071,"hi":0.0017},{"x":38100,"lo":-0.0075,"hi":0.0010},{"x":38250,"lo":-0.0069,"hi":0.0014},{"x":38400,"lo":-0.0077,"hi":0.0012},{"x":38550,"lo":-0.0073,"hi":0.0016},{"x":38700,"lo":-0.0079,"hi":0.0009},{"x":38850,"lo":-0.0071,"hi":0.0012},
      {"x":39000,"lo":-0.0070,"hi":0.0010},{"x":39150,"lo":-0.0078,"hi":0.0013},{"x":39300,"lo":-0.0072,"hi":0.0017},{"x":39450,"lo":-0.0076,"hi":0.0010},{"x":39600,"lo":-0.0081,"hi":0.0014},{"x":39750,"lo":-0.0071,"hi":0.0012},{"x":39900,"lo":-0.0075,"hi":0.0016},{"x":40050,"lo":-0.0069,"hi":0.0009},{"x":40200,"lo":-0.0077,"hi":0.0012},{"x":40350,"lo":-0.0073,"hi":0.0015},{"x":40500,"lo":-0.0079,"hi":0.0011},{"x":40650,"lo":-0.0071,"hi":0.0016},{"x":40800,"lo":-0.0070,"hi":0.0011},{"x":40950,"lo":-0.0076,"hi":0.0013},{"x":41100,"lo":-0.0074,"hi":0.0011},{"x":41250,"lo":-0.0074,"hi":0.0015},
      {"x":41400,"lo":-0.0072,"hi":0.0012},{"x":41550,"lo":-0.0077,"hi":0.0016},{"x":41700,"lo":-0.0071,"hi":0.0013},{"x":41850,"lo":-0.0076,"hi":0.0024},{"x":42000,"lo":-0.0070,"hi":0.0018},{"x":42150,"lo":-0.0078,"hi":0.0030},{"x":42300,"lo":-0.0072,"hi":0.0026},{"x":42450,"lo":-0.0075,"hi":0.0035},{"x":42550,"lo":-0.0079,"hi":0.0028},{"x":42600,"lo":-0.0078,"hi":0.0014},
      {"x":530,"lo":-0.0072,"hi":0.0010},{"x":560,"lo":-0.0006,"hi":0.0009},{"x":590,"lo":-0.0073,"hi":0.0010},
      {"x":1690,"lo":-0.0072,"hi":0.0010},{"x":1720,"lo":-0.0006,"hi":0.0009},{"x":1750,"lo":-0.0073,"hi":0.0010},
      {"x":4090,"lo":-0.0072,"hi":0.0010},{"x":4120,"lo":-0.0006,"hi":0.0009},{"x":4150,"lo":-0.0073,"hi":0.0010},
      {"x":5900,"lo":-0.0072,"hi":0.0010},{"x":5930,"lo":-0.0006,"hi":0.0009},{"x":5960,"lo":-0.0073,"hi":0.0010},
      {"x":7550,"lo":-0.0072,"hi":0.0007},{"x":7580,"lo":-0.0006,"hi":0.0006},{"x":7610,"lo":-0.0073,"hi":0.0007},
      {"x":9790,"lo":-0.0072,"hi":0.0010},{"x":9820,"lo":-0.0006,"hi":0.0009},{"x":9850,"lo":-0.0073,"hi":0.0010},
      {"x":10950,"lo":-0.0072,"hi":0.0010},{"x":10980,"lo":-0.0006,"hi":0.0009},{"x":11010,"lo":-0.0073,"hi":0.0010},
      {"x":12530,"lo":-0.0072,"hi":0.0010},{"x":12560,"lo":-0.0006,"hi":0.0009},{"x":12590,"lo":-0.0073,"hi":0.0010},
      {"x":13840,"lo":-0.0072,"hi":0.0010},{"x":13870,"lo":-0.0006,"hi":0.0009},{"x":13900,"lo":-0.0073,"hi":0.0010},
      {"x":17260,"lo":-0.0072,"hi":0.0014},{"x":17290,"lo":-0.0006,"hi":0.0013},{"x":17320,"lo":-0.0073,"hi":0.0014},
      {"x":19090,"lo":-0.0072,"hi":0.0014},{"x":19120,"lo":-0.0006,"hi":0.0013},{"x":19150,"lo":-0.0073,"hi":0.0014},
      {"x":20290,"lo":-0.0072,"hi":0.0014},{"x":20320,"lo":-0.0006,"hi":0.0013},{"x":20350,"lo":-0.0073,"hi":0.0014},
      {"x":23890,"lo":-0.0072,"hi":0.0010},{"x":23920,"lo":-0.0006,"hi":0.0009},{"x":23950,"lo":-0.0073,"hi":0.0010},
      {"x":26850,"lo":-0.0072,"hi":0.0010},{"x":26880,"lo":-0.0006,"hi":0.0009},{"x":26910,"lo":-0.0073,"hi":0.0010},
      {"x":28000,"lo":-0.0072,"hi":0.0010},{"x":28030,"lo":-0.0006,"hi":0.0009},{"x":28060,"lo":-0.0073,"hi":0.0010},
      {"x":33790,"lo":-0.0072,"hi":0.0012},{"x":33820,"lo":-0.0006,"hi":0.0011},{"x":33850,"lo":-0.0073,"hi":0.0012},
      {"x":36630,"lo":-0.0072,"hi":0.0012},{"x":36660,"lo":-0.0006,"hi":0.0011},{"x":36690,"lo":-0.0073,"hi":0.0012},
      {"x":38140,"lo":-0.0072,"hi":0.0012},{"x":38170,"lo":-0.0006,"hi":0.0011},{"x":38200,"lo":-0.0073,"hi":0.0012},
      {"x":40590,"lo":-0.0072,"hi":0.0012},{"x":40620,"lo":-0.0006,"hi":0.0011},{"x":40680,"lo":-0.0073,"hi":0.0012},
      {"x":41000,"lo":-0.0072,"hi":0.0012},{"x":41030,"lo":-0.0006,"hi":0.0011},{"x":41060,"lo":-0.0073,"hi":0.0012}
    ],
    "atacSpikes": [
      {"x":470,"y":0.0026,"b":0},{"x":1000,"y":0.0019,"b":0},{"x":1520,"y":0.0022,"b":0},{"x":1780,"y":0.0041,"b":0},{"x":2245,"y":0.0067,"b":0},{"x":2455,"y":0.0063,"b":0},{"x":2665,"y":0.008,"b":0},{"x":3070,"y":0.0071,"b":0},{"x":3457,"y":0.0033,"b":0},{"x":4150,"y":0.003,"b":0},{"x":4443,"y":0.0079,"b":0},{"x":4590,"y":0.0032,"b":0},{"x":6866,"y":0.0025,"b":0},{"x":7205,"y":0.0059,"b":0},{"x":7706,"y":0.0039,"b":0},{"x":8223,"y":0.0063,"b":0},{"x":9887,"y":0.002,"b":0},{"x":10711,"y":0.0023,"b":0},{"x":11212,"y":0.0022,"b":0},{"x":12036,"y":0.0041,"b":0},{"x":12682,"y":0.0029,"b":0},{"x":13635,"y":0.0025,"b":0},{"x":14443,"y":0.0065,"b":0},{"x":15218,"y":0.0078,"b":0},{"x":16040,"y":0.0035,"b":0},{"x":16620,"y":0.0043,"b":0},{"x":16900,"y":0.0056,"b":0},{"x":17400,"y":0.0046,"b":0},{"x":18450,"y":0.0033,"b":0},{"x":18900,"y":0.0044,"b":0},{"x":19420,"y":0.006,"b":0},{"x":19700,"y":0.0043,"b":0},{"x":20300,"y":0.003,"b":0},{"x":21000,"y":0.0029,"b":0},{"x":21680,"y":0.0078,"b":0},{"x":21810,"y":0.006,"b":0},{"x":22400,"y":0.0078,"b":0},{"x":22540,"y":0.007,"b":0},{"x":22800,"y":0.0071,"b":0},{"x":22920,"y":0.007,"b":0},{"x":23700,"y":0.0053,"b":0},{"x":24070,"y":0.0017,"b":0},{"x":25475,"y":0.0065,"b":0},{"x":25620,"y":0.0081,"b":0},{"x":25690,"y":0.0068,"b":0},{"x":25900,"y":0.0043,"b":0},{"x":26820,"y":0.0042,"b":0},{"x":27460,"y":0.0035,"b":0},{"x":29110,"y":0.0043,"b":0},{"x":29550,"y":0.0054,"b":0},{"x":29725,"y":0.0053,"b":0},{"x":30550,"y":0.0029,"b":0},{"x":30900,"y":0.0023,"b":0},{"x":31470,"y":0.0078,"b":0},{"x":31615,"y":0.0057,"b":0},{"x":31955,"y":0.0057,"b":0},{"x":32795,"y":0.0048,"b":0},{"x":34330,"y":0.0029,"b":0},{"x":35410,"y":0.0025,"b":0},{"x":36075,"y":0.004,"b":0},{"x":36700,"y":0.0029,"b":0},{"x":36880,"y":0.0029,"b":0},{"x":38450,"y":0.0025,"b":0},{"x":39610,"y":0.0032,"b":0},{"x":40050,"y":0.0056,"b":0},{"x":40260,"y":0.0029,"b":0},{"x":41020,"y":0.0031,"b":0},{"x":41420,"y":0.0025,"b":0},{"x":41780,"y":0.0045,"b":0},{"x":42245,"y":0.004,"b":0},{"x":42420,"y":0.0066,"b":0},{"x":42500,"y":0.0055,"b":0},
      {"x":300,"y":-0.0081,"b":0},{"x":1300,"y":-0.008,"b":0},{"x":2000,"y":-0.0079,"b":0},{"x":3600,"y":-0.0078,"b":0},{"x":4800,"y":-0.0082,"b":0},{"x":5600,"y":-0.0081,"b":0},{"x":6800,"y":-0.0079,"b":0},{"x":8400,"y":-0.0083,"b":0},{"x":9210,"y":-0.0086,"b":0},{"x":10300,"y":-0.0082,"b":0},{"x":11100,"y":-0.008,"b":0},{"x":12200,"y":-0.0082,"b":0},{"x":13020,"y":-0.0087,"b":0},{"x":14000,"y":-0.008,"b":0},{"x":14800,"y":-0.0083,"b":0},{"x":16000,"y":-0.0081,"b":0},{"x":17300,"y":-0.008,"b":0},{"x":18500,"y":-0.0081,"b":0},{"x":19300,"y":-0.0079,"b":0},{"x":20400,"y":-0.0082,"b":0},{"x":21300,"y":-0.008,"b":0},{"x":23130,"y":-0.0082,"b":0},{"x":24200,"y":-0.0081,"b":0},{"x":25100,"y":-0.0082,"b":0},{"x":26700,"y":-0.008,"b":0},{"x":27500,"y":-0.0082,"b":0},{"x":28500,"y":-0.0079,"b":0},{"x":29300,"y":-0.0081,"b":0},{"x":30400,"y":-0.0087,"b":0},{"x":31000,"y":-0.008,"b":0},{"x":32260,"y":-0.0082,"b":0},{"x":32520,"y":-0.0084,"b":0},{"x":33500,"y":-0.008,"b":0},{"x":34460,"y":-0.0082,"b":0},{"x":35600,"y":-0.008,"b":0},{"x":36800,"y":-0.0081,"b":0},{"x":37800,"y":-0.008,"b":0},{"x":38700,"y":-0.0081,"b":0},{"x":39340,"y":-0.0082,"b":0},{"x":40985,"y":-0.0083,"b":0},{"x":41800,"y":-0.008,"b":0},{"x":42540,"y":-0.0079,"b":0}
    ]
  },
  "bounds": "flush",
  "spacing": 233.6,
  "vconcat": [
    {
      "title": {"text": "factor\u00a0 3 , RNA"},
      "width": 2147.4,
      "height": 534.4,
      "layer": [
        {
          "data": {"name": "rnaBand"},
          "mark": {"type": "area", "color": "#D6395A", "stroke": "#D6395A", "strokeWidth": 2},
          "encoding": {
            "x": {"field": "x", "type": "quantitative", "scale": {"domain": [-1704, 44304], "nice": false, "zero": false}, "axis": {"values": [0, 10000, 20000, 30000, 40000], "format": "d", "title": null, "labelBaseline": "alphabetic", "labelPadding": 33}},
            "y": {"field": "hi", "type": "quantitative", "scale": {"domain": [-0.00901, 0.009845], "nice": false, "zero": false}, "axis": {"values": [-0.005, 0, 0.005], "labelExpr": "datum.value < 0 ? '-' + format(-datum.value, '.3f') : format(datum.value, '.3f')", "title": null, "labelAngle": 270, "labelAlign": "center", "labelBaseline": "alphabetic", "labelPadding": 15}},
            "y2": {"field": "lo"}
          }
        },
        {
          "data": {"name": "rnaSpikes"},
          "mark": {"type": "rule", "color": "#D6395A", "strokeWidth": 2},
          "encoding": {
            "x": {"field": "x", "type": "quantitative", "scale": {"domain": [-1704, 44304], "nice": false, "zero": false}},
            "y": {"field": "y", "type": "quantitative", "scale": {"domain": [-0.00901, 0.009845], "nice": false, "zero": false}},
            "y2": {"field": "b"}
          }
        }
      ]
    },
    {
      "title": {"text": "H3K4me1"},
      "width": 2147.4,
      "height": 534.4,
      "layer": [
        {
          "data": {"name": "h3Band"},
          "mark": {"type": "area", "color": "#55CB41"},
          "encoding": {
            "x": {"field": "x", "type": "quantitative", "scale": {"domain": [-1704, 44304], "nice": false, "zero": false}, "axis": {"values": [0, 10000, 20000, 30000, 40000], "format": "d", "title": null, "labelBaseline": "alphabetic", "labelPadding": 33}},
            "y": {"field": "hi", "type": "quantitative", "scale": {"domain": [-0.008812, 0.009321], "nice": false, "zero": false}, "axis": {"values": [-0.005, 0, 0.005], "labelExpr": "datum.value < 0 ? '-' + format(-datum.value, '.3f') : format(datum.value, '.3f')", "title": null, "labelAngle": 270, "labelAlign": "center", "labelBaseline": "alphabetic", "labelPadding": 15}},
            "y2": {"field": "lo"}
          }
        },
        {
          "data": {"name": "h3Spikes"},
          "mark": {"type": "rule", "color": "#55CB41", "strokeWidth": 2},
          "encoding": {
            "x": {"field": "x", "type": "quantitative", "scale": {"domain": [-1704, 44304], "nice": false, "zero": false}},
            "y": {"field": "y", "type": "quantitative", "scale": {"domain": [-0.008812, 0.009321], "nice": false, "zero": false}},
            "y2": {"field": "b"}
          }
        }
      ]
    },
    {
      "title": {"text": "ATAC"},
      "width": 2147.4,
      "height": 534.4,
      "layer": [
        {
          "data": {"name": "atacBand"},
          "mark": {"type": "area", "color": "#2083E0"},
          "encoding": {
            "x": {"field": "x", "type": "quantitative", "scale": {"domain": [-1704, 44304], "nice": false, "zero": false}, "axis": {"values": [0, 10000, 20000, 30000, 40000], "format": "d", "title": "locus", "titleFontSize": 20.5, "titleFontWeight": "normal", "titleY": 97, "titleBaseline": "alphabetic", "labelBaseline": "alphabetic", "labelPadding": 33}},
            "y": {"field": "hi", "type": "quantitative", "scale": {"domain": [-0.009337, 0.008748], "nice": false, "zero": false}, "axis": {"values": [-0.005, 0, 0.005], "labelExpr": "datum.value < 0 ? '-' + format(-datum.value, '.3f') : format(datum.value, '.3f')", "title": null, "labelAngle": 270, "labelAlign": "center", "labelBaseline": "alphabetic", "labelPadding": 15}},
            "y2": {"field": "lo"}
          }
        },
        {
          "data": {"name": "atacSpikes"},
          "mark": {"type": "rule", "color": "#2083E0", "strokeWidth": 2},
          "encoding": {
            "x": {"field": "x", "type": "quantitative", "scale": {"domain": [-1704, 44304], "nice": false, "zero": false}},
            "y": {"field": "y", "type": "quantitative", "scale": {"domain": [-0.009337, 0.008748], "nice": false, "zero": false}},
            "y2": {"field": "b"}
          }
        }
      ]
    }
  ]
}
